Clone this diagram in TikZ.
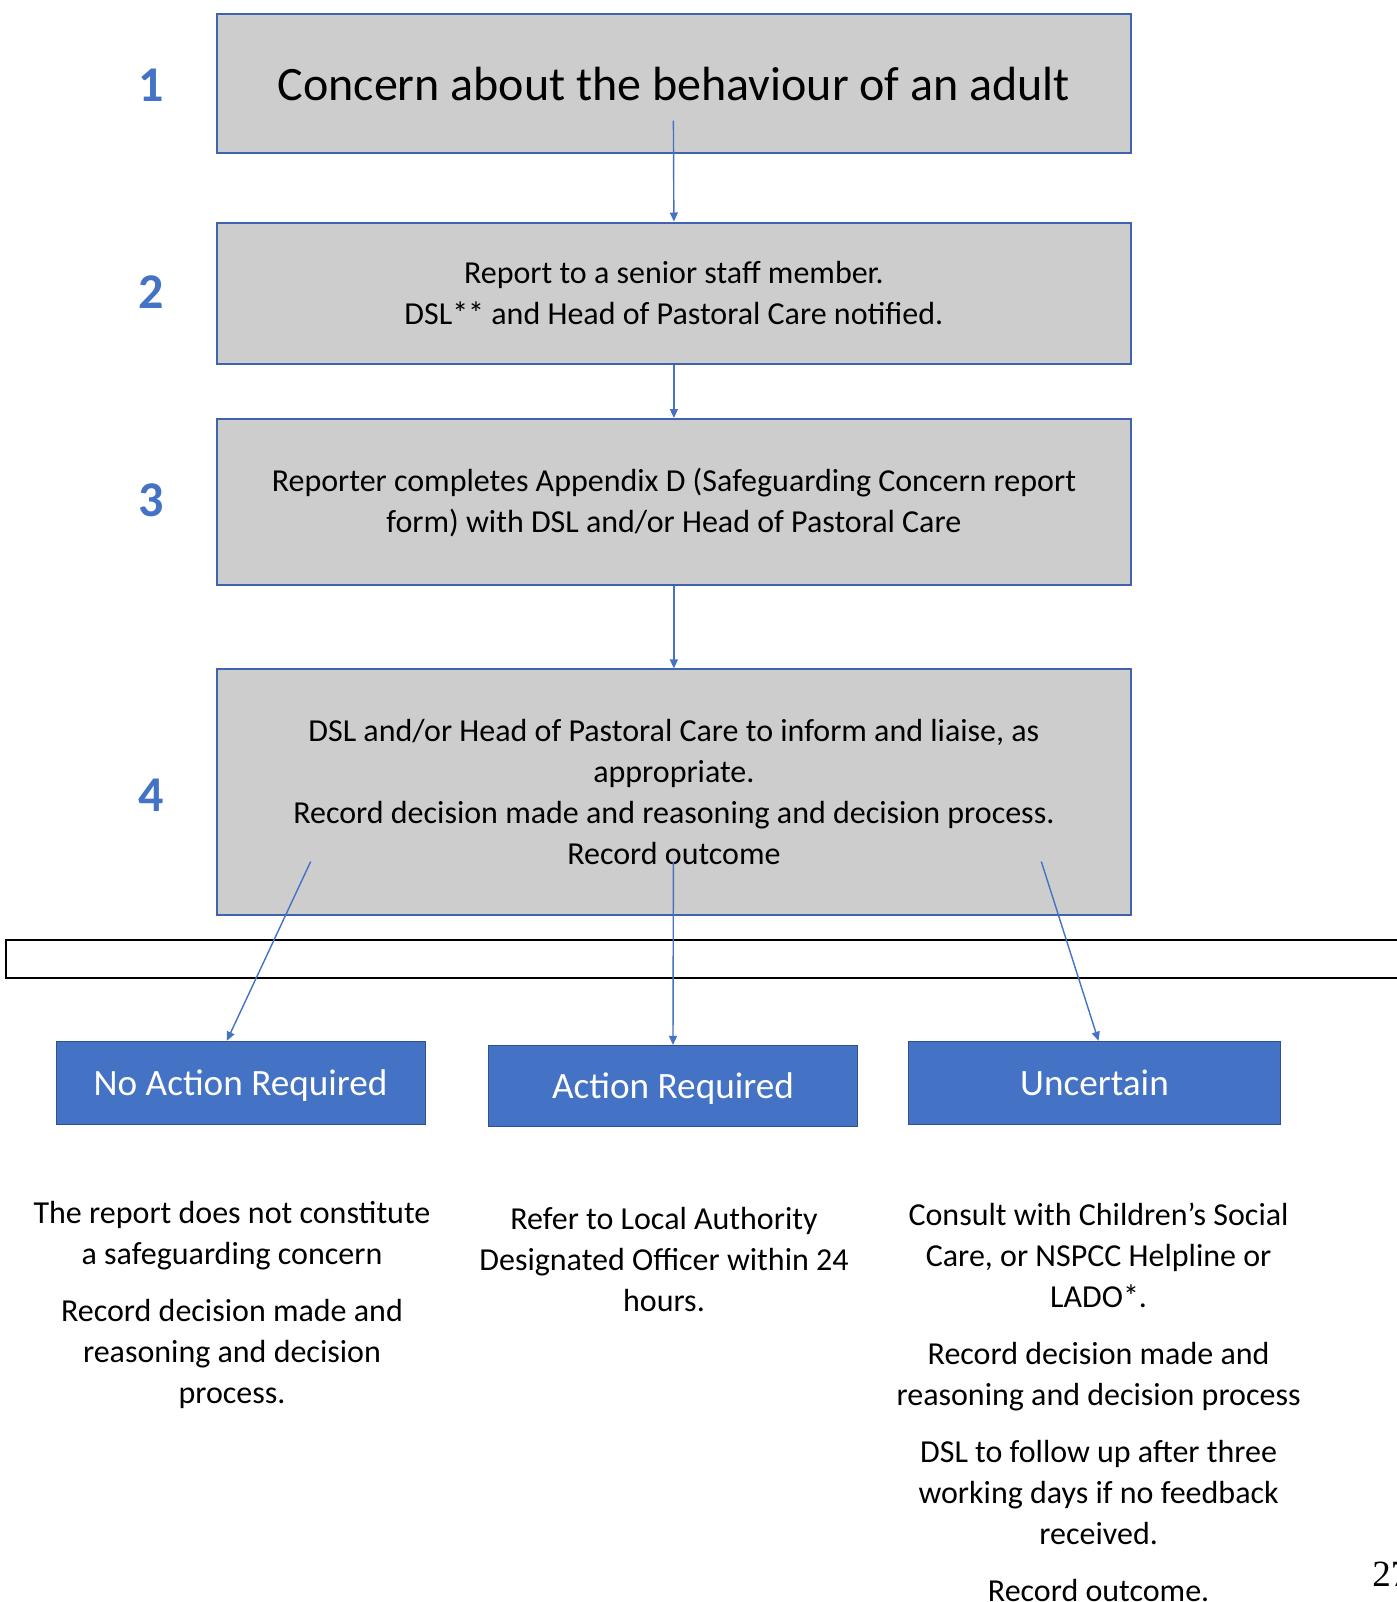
\documentclass[tikz,border=0pt]{standalone}
\usepackage{fontspec}
\setmainfont{Carlito}
\newfontfamily\pagefont{Liberation Serif}
\usepackage{xcolor}
\usetikzlibrary{arrows.meta}
\definecolor{stepblue}{HTML}{4472C4}
\definecolor{edgeblue}{HTML}{3F63AE}
\definecolor{darkblue}{HTML}{2F528F}
\definecolor{boxgray}{HTML}{CDCDCD}

\begin{document}
\begin{tikzpicture}[x=0.5pt,y=-0.5pt,
  stagebox/.style={draw=edgeblue,fill=boxgray,line width=1pt,minimum width=457.3pt,align=center,inner sep=0pt},
  outcomebox/.style={draw=darkblue,fill=stepblue,line width=0.6pt,minimum width=184.5pt,text=white,inner sep=0pt,text depth=0pt,font=\fontsize{18.6}{23}\selectfont},
  stepnum/.style={text=stepblue,font=\fontsize{25}{30}\selectfont\bfseries},
  notetext/.style={align=center,font=\fontsize{16}{20.5}\selectfont},
  flowarrow/.style={draw=stepblue,line width=0.7pt,-{Triangle[width=4pt,length=4.5pt]}}]
\useasboundingbox (0,0) rectangle (1397,1602);
\fill[white] (0,0) rectangle (1397,1602);

\node[stepnum] (num1) at (151,85) {1};
\node[stepnum] (num2) at (151,292) {2};
\node[stepnum] (num3) at (151,500) {3};
\node[stepnum] (num4) at (151,795) {4};

\node[stagebox,minimum height=69.5pt,font=\fontsize{24}{29}\selectfont] (box1) at (673.9,83.8) {Concern about the behaviour of an adult};
\node[stagebox,minimum height=70.5pt,font=\fontsize{16}{20.5}\selectfont] (box2) at (673.9,293) {Report to a senior staff member.\\DSL** and Head of Pastoral Care notified.};
\node[stagebox,minimum height=83.2pt,font=\fontsize{16}{20.5}\selectfont] (box3) at (673.9,502.2) {Reporter completes Appendix D (Safeguarding Concern report\\form) with DSL and/or Head of Pastoral Care};
\node[stagebox,minimum height=122.6pt,font=\fontsize{16}{20.5}\selectfont] (box4) at (673.9,792) {DSL and/or Head of Pastoral Care to inform and liaise, as\\appropriate.\\Record decision made and reasoning and decision process.\\Record outcome};

\draw[line width=1.2pt] (6,940) rectangle (1420,978);

\node[outcomebox,minimum height=41.4pt] (noaction) at (240.6,1082.7) {No Action Required};
\node[outcomebox,minimum height=40.3pt] (action) at (673,1085.8) {Action Required};
\node[outcomebox,minimum height=41.4pt,minimum width=186pt] (uncertain) at (1094.5,1082.7) {Uncertain};

\coordinate (b1out) at (673.4,120.6);
\coordinate (b4left) at (310.7,861.5);
\coordinate (b4mid) at (673.4,861.5);
\coordinate (b4right) at (1041.3,861.5);
\draw[flowarrow] (b1out) -- (box2.north);
\draw[flowarrow] (box2.south) -- (box3.north);
\draw[flowarrow] (box3.south) -- (box4.north);
\draw[flowarrow] (b4left) -- ([xshift=-6.85pt]noaction.north);
\draw[flowarrow] (b4mid) -- (action.north);
\draw[flowarrow] (b4right) -- ([xshift=2pt]uncertain.north);

\node[notetext] (noactiontext) at (232,1305) {The report does not constitute\\a safeguarding concern\\[8pt]Record decision made and\\reasoning and decision\\process.};
\node[notetext] (actiontext) at (664,1259) {Refer to Local Authority\\Designated Officer within 24\\hours.};
\node[notetext] (uncertaintext) at (1098.6,1402) {Consult with Children’s Social\\Care, or NSPCC Helpline or\\LADO*.\\[8pt]Record decision made and\\reasoning and decision process\\[8pt]DSL to follow up after three\\working days if no feedback\\received.\\[8pt]Record outcome.};

\node[anchor=base west,font=\pagefont\fontsize{18.5}{22}\selectfont,inner sep=0pt] (pagenum) at (1372,1586) {27};
\end{tikzpicture}
\end{document}
